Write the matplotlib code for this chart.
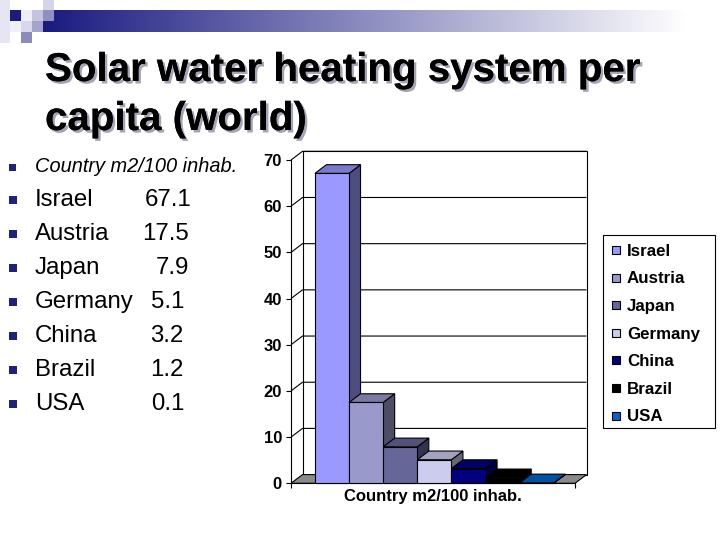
import matplotlib
matplotlib.use('Agg')
import matplotlib.pyplot as plt
from matplotlib.patches import Polygon, Rectangle
import matplotlib.patheffects as pe
import numpy as np

# ---------------- data ----------------
countries = ['Israel', 'Austria', 'Japan', 'Germany', 'China', 'Brazil', 'USA']
values = [67.1, 17.5, 7.9, 5.1, 3.2, 1.2, 0.1]
value_labels = ['67.1', '17.5', '7.9', '5.1', '3.2', '1.2', '0.1']
y_ticks = [0, 10, 20, 30, 40, 50, 60, 70]
title_lines = ['Solar water heating system per', 'capita (world)']
header = 'Country m2/100 inhab.'
x_label = 'Country m2/100 inhab.'

# ---------------- style ----------------
bar_colors = ['#9999FF', '#9999CC', '#666699', '#CCCCEE', '#000080', '#000000', '#0066CC']
num_x = [145, 142.5, 155.5, 150.5, 150.5, 150.5, 151.5]

plt.rcParams['font.family'] = ['Liberation Sans', 'DejaVu Sans']

W, H = 720, 540
fig = plt.figure(figsize=(7.2, 5.4), dpi=100)
fig.patch.set_facecolor('white')

bg = fig.add_axes([0, 0, 1, 1])
bg.set_xlim(0, W)
bg.set_ylim(H, 0)
bg.axis('off')
bg.set_zorder(0)

# --- top decoration: gradient bar + squares ---
n = 400
t = np.linspace(0, 1, n)
t = np.clip(t / 0.95, 0, 1)
start = np.array([0x1a, 0x1a, 0x80]) / 255.0
end = np.array([1.0, 1.0, 1.0])
grad = start[None, :] * (1 - t[:, None]) + end[None, :] * t[:, None]
bg.imshow(grad[None, :, :], extent=(43, 720, 32, 10), aspect='auto', zorder=1)

squares = [
    (0, 0, 10, 43, '#e6e6f2'),
    (10, 10, 11, 11, '#1c1c80'),
    (21, 10, 11, 11, '#eeeef6'),
    (32, 10, 11, 11, '#c4c4e0'),
    (43, 0, 11, 10, '#d4d4ea'),
    (43, 10, 11, 11, '#8f8fc0'),
    (10, 21, 11, 11, '#f0f0f8'),
    (21, 21, 11, 11, '#d8d8ec'),
    (32, 21, 11, 11, '#a4a4cf'),
    (21, 32, 11, 11, '#8a8abc'),
]
for (x, y, w, h, c) in squares:
    bg.add_patch(Rectangle((x, y), w, h, facecolor=c, edgecolor='none', zorder=2))

# --- title with shadow ---
title_base = [81, 130]
shadow = [pe.withSimplePatchShadow(offset=(1.8, -1.8), shadow_rgbFace='#a4a4b4', alpha=1.0),
          pe.Normal()]
for line, yb in zip(title_lines, title_base):
    bg.text(45, yb, line, fontsize=29, fontweight='bold', color='black',
            va='baseline', ha='left', zorder=4, path_effects=shadow)

# --- bullet list ---
bullet_color = '#20207f'
bg.add_patch(Rectangle((8.5, 163.5), 7, 7, facecolor=bullet_color, edgecolor='none'))
bg.text(35, 171.7, header, fontsize=14.4, fontstyle='italic', va='baseline', ha='left')
for i, (name, lab) in enumerate(zip(countries, value_labels)):
    yb = 206 + i * 34.08
    bg.add_patch(Rectangle((8.5, yb - 10), 8, 8, facecolor=bullet_color, edgecolor='none'))
    bg.text(35, yb, name, fontsize=17.3, va='baseline', ha='left')
    bg.text(num_x[i], yb, lab, fontsize=17.3, va='baseline', ha='left')

# --- chart axes (front plane) ---
left_px, right_px, y0_px, ytop_px = 291, 575, 483.3, 160
ax = fig.add_axes([left_px / W, (H - y0_px) / H, (right_px - left_px) / W, (y0_px - ytop_px) / H])
ax.set_zorder(2)
ax.patch.set_alpha(0)
x0, x1 = -0.70, 7.62
ax.set_xlim(x0, x1)
ax.set_ylim(0, 70)
for s in ['top', 'right']:
    ax.spines[s].set_visible(False)
ax.spines['left'].set_linewidth(0.8)
ax.spines['bottom'].set_linewidth(0.8)
ax.set_yticks(y_ticks)
ax.set_yticklabels([str(v) for v in y_ticks], fontsize=12, fontweight='bold')
ax.set_xticks([x0, x1])
ax.set_xticklabels(['', ''])
ax.tick_params(axis='both', direction='out', length=3.5, width=0.8, pad=3)

sx = (right_px - left_px) / (x1 - x0)
sy = (y0_px - ytop_px) / 70.0
DX, DY = 11.5, 8.7
ddx, ddy = DX / sx, DY / sy
lw = 0.8

# back wall
ax.add_patch(Polygon([(x0 + ddx, ddy), (x1 + ddx, ddy), (x1 + ddx, 70 + ddy), (x0 + ddx, 70 + ddy)],
                     closed=True, facecolor='white', edgecolor='black', lw=lw, clip_on=False, zorder=1))
# gridlines on back wall + side-wall diagonals
for v in y_ticks[1:]:
    ax.plot([x0, x0 + ddx, x1 + ddx], [v, v + ddy, v + ddy], color='black', lw=lw,
            clip_on=False, zorder=1.5, solid_capstyle='butt')
# floor
ax.add_patch(Polygon([(x0, 0), (x1, 0), (x1 + ddx, ddy), (x0 + ddx, ddy)],
                     closed=True, facecolor='#8a8a8a', edgecolor='black', lw=lw, clip_on=False, zorder=2))


def shade(hexcol, f):
    r, g, b = matplotlib.colors.to_rgb(hexcol)
    return (r * f, g * f, b * f)


# bars
for i, (v, c) in enumerate(zip(values, bar_colors)):
    z = 3 + i * 0.01
    ax.add_patch(Polygon([(i + 1, 0), (i + 1 + ddx, ddy), (i + 1 + ddx, v + ddy), (i + 1, v)],
                         closed=True, facecolor=shade(c, 0.5), edgecolor='black', lw=lw,
                         clip_on=False, zorder=z))
    ax.add_patch(Polygon([(i, v), (i + 1, v), (i + 1 + ddx, v + ddy), (i + ddx, v + ddy)],
                         closed=True, facecolor=shade(c, 0.8), edgecolor='black', lw=lw,
                         clip_on=False, zorder=z))
    ax.add_patch(Rectangle((i, 0), 1, v, facecolor=c, edgecolor='black', lw=lw,
                           clip_on=False, zorder=z))

# x label
bg.text((left_px + right_px) / 2, 500.5, x_label, fontsize=12, fontweight='bold',
        ha='center', va='baseline', zorder=5)

# --- legend ---
bg.add_patch(Rectangle((603, 235), 112, 193, facecolor='white', edgecolor='black', lw=0.8, zorder=5))
for i, (name, c) in enumerate(zip(countries, bar_colors)):
    yc = 250 + i * 27.6
    bg.add_patch(Rectangle((612, yc - 4), 8, 8, facecolor=c, edgecolor='black', lw=0.8, zorder=6))
    bg.text(627, yc + 5.8, name, fontsize=12.2, fontweight='bold', ha='left', va='baseline', zorder=6)

fig.savefig('out.png', dpi=100, facecolor='white')
